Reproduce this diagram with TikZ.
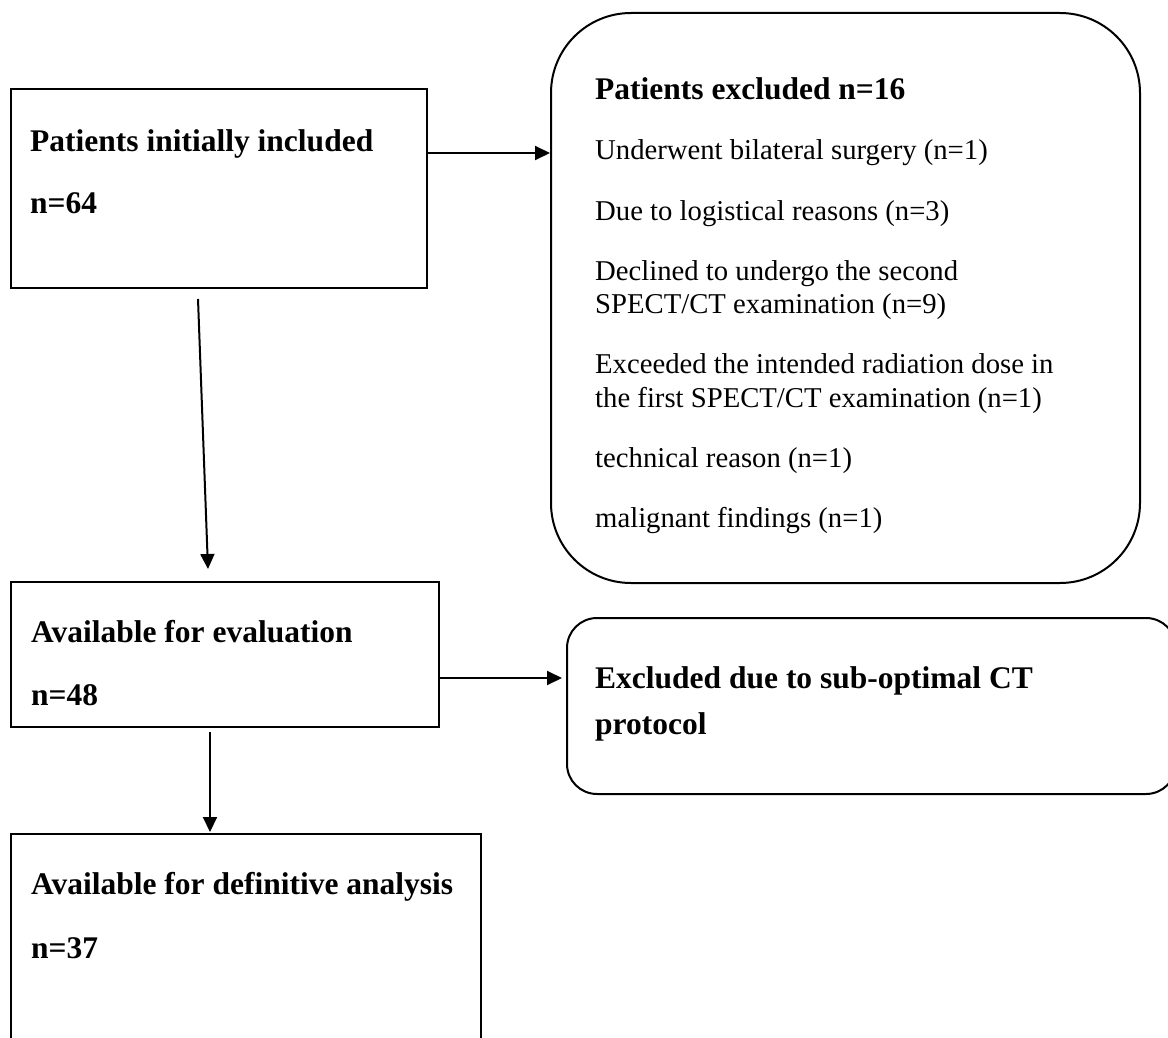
\documentclass[tikz,border=0pt]{standalone}
\usepackage{fontspec}
\setmainfont{Liberation Serif}
\usetikzlibrary{arrows.meta}
\begin{document}
\begin{tikzpicture}[x=1pt,y=-1pt,
  boxline/.style={draw=black,line width=2pt},
  sqbox/.style={boxline,rectangle,anchor=north west,inner sep=0pt},
  rbox/.style={boxline,rectangle,anchor=north west,inner sep=0pt},
  arr/.style={draw=black,line width=2pt,-{Triangle[length=15pt,width=14pt]}},
  bt/.style={anchor=base west,inner sep=0pt,font=\fontsize{31.5}{36}\selectfont\bfseries},
  rt/.style={anchor=base west,inner sep=0pt,font=\fontsize{28.7}{33}\selectfont}
]
\clip (0,0) rectangle (1168,1038);
\fill[white] (0,0) rectangle (1168,1038);

% boxes
\node[sqbox,minimum width=416pt,minimum height=199pt] (b1) at (10,88) {};
\node[rbox,rounded corners=80pt,minimum width=589pt,minimum height=570pt] (b2) at (550,12) {};
\node[sqbox,minimum width=428pt,minimum height=145pt] (b3) at (10,581) {};
\node[rbox,rounded corners=30pt,minimum width=609pt,minimum height=176pt] (b4) at (566,617) {};
\node[sqbox,minimum width=470pt,minimum height=220pt] (b5) at (10,833) {};

% texts box 1
\node[bt] (t1a) at (30,152) {Patients initially included};
\node[bt] (t1b) at (30,213) {n=64};

% texts box 2
\node[bt] (t2a) at (595,100) {Patients excluded n=16};
\node[rt] (t2b) at (595,160) {Underwent bilateral surgery (n=1)};
\node[rt] (t2c) at (595,220) {Due to logistical reasons (n=3)};
\node[rt] (t2d) at (595,280) {Declined to undergo the second};
\node[rt] (t2e) at (595,313) {SPECT/CT examination (n=9)};
\node[rt] (t2f) at (595,373) {Exceeded the intended radiation dose in};
\node[rt] (t2g) at (595,407) {the first SPECT/CT examination (n=1)};
\node[rt] (t2h) at (595,467) {technical reason (n=1)};
\node[rt] (t2i) at (595,527) {malignant findings (n=1)};

% texts box 3
\node[bt] (t3a) at (31,642) {Available for evaluation};
\node[bt] (t3b) at (31,705) {n=48};

% texts box 4
\node[bt] (t4a) at (595,688) {Excluded due to sub-optimal CT};
\node[bt] (t4b) at (595,734) {protocol};

% texts box 5
\node[bt] (t5a) at (31,894) {Available for definitive analysis};
\node[bt] (t5b) at (31,958) {n=37};

% connector end points
\coordinate (s1) at (198,299);
\coordinate (e1) at (208,569);
\coordinate (s3) at (210,732);
\coordinate (e3) at (210,832);

% connectors
\draw[arr] (b1.east |- 0,153) -- (b2.west |- 0,153);
\draw[arr] (s1) -- (e1);
\draw[arr] (b3.east |- 0,678) -- ([xshift=-4pt]b4.west |- 0,678);
\draw[arr] (s3) -- (e3);
\end{tikzpicture}
\end{document}
